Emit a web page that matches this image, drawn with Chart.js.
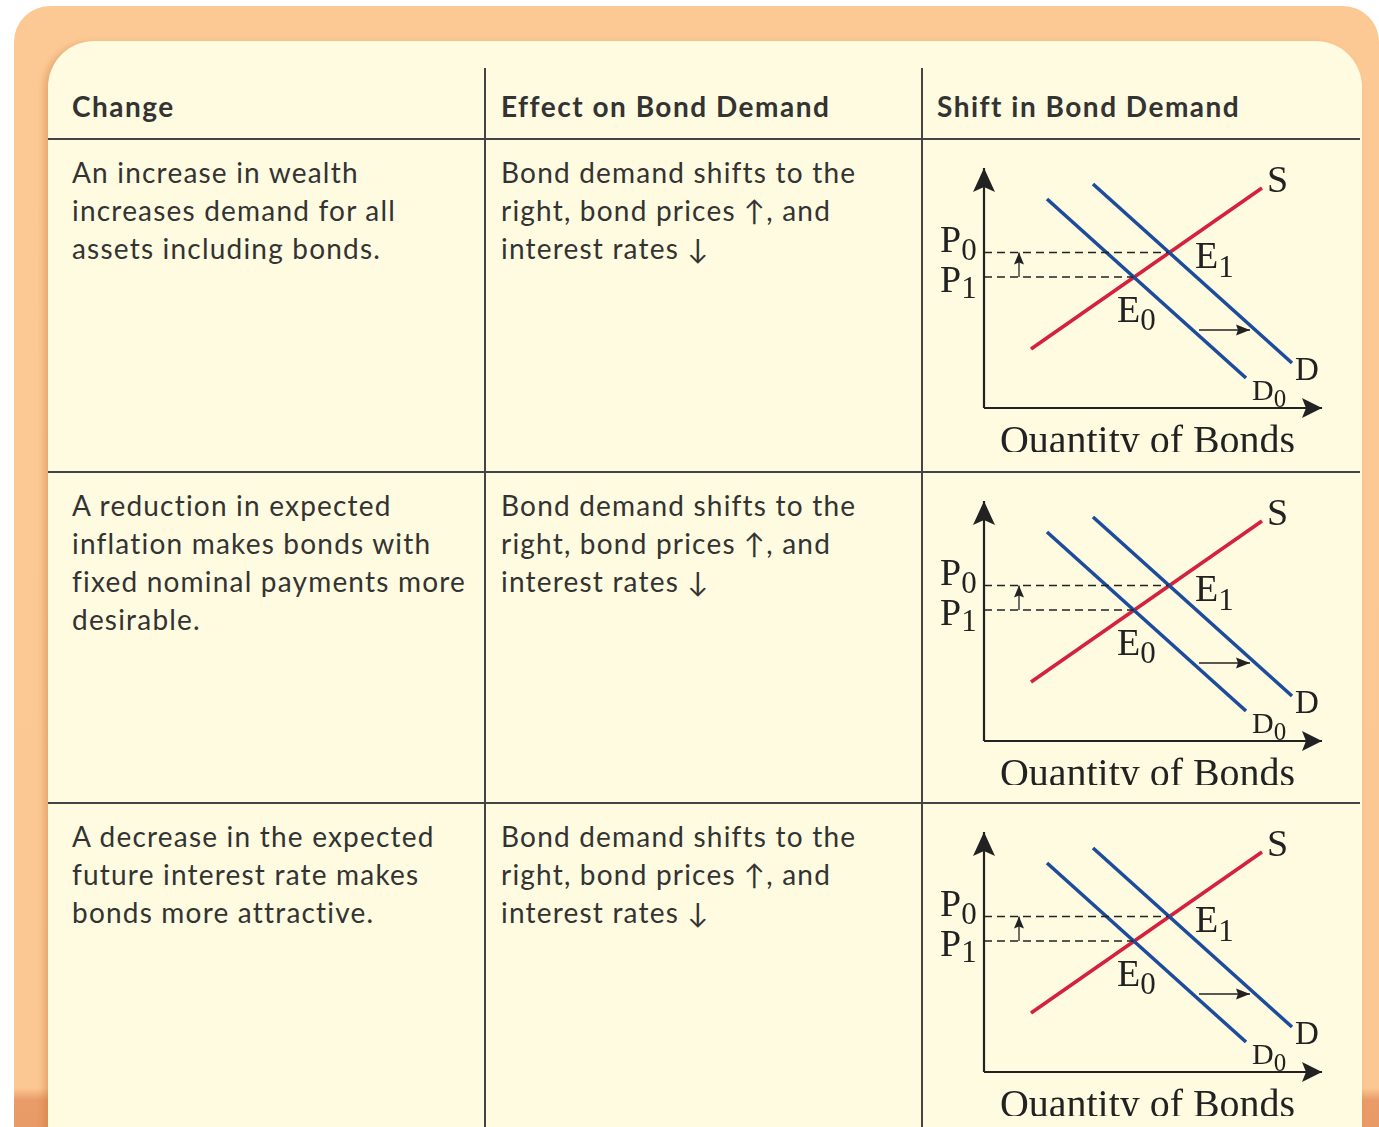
<!DOCTYPE html>
<html>
<head>
<meta charset="utf-8">
<script src="https://cdn.jsdelivr.net/npm/chart.js@4.4.1/dist/chart.umd.min.js"></script>
<style>
  html,body{margin:0;padding:0;background:#ffffff;width:1379px;height:1127px;overflow:hidden;}
  #frame{position:absolute;left:14px;top:6px;width:1365px;height:1200px;border-radius:36px;
    background:linear-gradient(to bottom,#fcc995 0px,#fbc793 1082px,#e99c69 1094px,#e4925e 1200px);}
  #panel{position:absolute;left:48px;top:41px;width:1314px;height:1200px;border-radius:46px;
    background:#fefbe0;box-shadow:-4px 2px 7px rgba(190,105,40,0.35);}
  .hline{position:absolute;left:48px;width:1312px;height:2px;background:#444;}
  .vline{position:absolute;top:68px;width:2px;height:1100px;background:#444;}
  .txt{position:absolute;font-family:Lato,"Open Sans",sans-serif;font-size:28px;line-height:38px;color:#333;white-space:nowrap;letter-spacing:1.2px;}
  .hdr{font-weight:700;letter-spacing:1.5px;}
  canvas.dg{position:absolute;}
</style>
</head>
<body>
<div id="frame"></div>
<div id="panel"></div>
<div id="table"></div>
<script>
// ---------------- data ----------------
const headers = ["Change", "Effect on Bond Demand", "Shift in Bond Demand"];
const changes = [
  ["An increase in wealth", "increases demand for all", "assets including bonds."],
  ["A reduction in expected", "inflation makes bonds with", "fixed nominal payments more", "desirable."],
  ["A decrease in the expected", "future interest rate makes", "bonds more attractive."]
];
const effects = [
  ["Bond demand shifts to the", "right, bond prices \u2191, and", "interest rates \u2193"],
  ["Bond demand shifts to the", "right, bond prices \u2191, and", "interest rates \u2193"],
  ["Bond demand shifts to the", "right, bond prices \u2191, and", "interest rates \u2193"]
];
// diagram values (quantity, price) in arbitrary units
const supplyS   = [[4.7, 5.9], [27.8, 22.0]];
const demandD0  = [[6.3, 20.9], [26.2, 3.0]];
const demandD   = [[10.9, 22.4], [30.8, 4.5]];
const priceP0 = 15.55, priceP1 = 13.1;
const quantityE1 = 18.45, quantityE0 = 14.95;
const axisQmax = 33.8, axisPmax = 24.0;
const shiftArrowQ = [21.5, 26.6], shiftArrowP = 7.8;
const priceArrowQ = 3.5;
const pointLabels = ["P", "P", "E", "E", "S", "D", "D"];
const pointSubs   = ["0", "1", "1", "0", "", "", "0"];
const xAxisTitle = "Quantity of Bonds";

// ---------------- layout ----------------
const rowTops = [139, 472, 803];
const table = document.getElementById('table');
function add(cls, style, text){
  const d = document.createElement('div'); d.className = cls; Object.assign(d.style, style);
  if (text !== undefined) d.innerHTML = text; table.appendChild(d); return d;
}
rowTops.forEach(t => add('hline', {top:(t-1)+'px'}));
add('vline', {left:'484px'}); add('vline', {left:'921px'});
const colX = [72, 501, 937];
headers.forEach((h,i)=> add('txt hdr', {left:colX[i]+'px', top:'87px'}, h));
rowTops.forEach((t,r)=>{
  add('txt', {left:colX[0]+'px', top:(t+14)+'px'}, changes[r].join('<br>'));
  add('txt', {left:colX[1]+'px', top:(t+14)+'px'}, effects[r].join('<br>'));
});

// ---------------- Chart.js diagrams ----------------
const toPts = arr => arr.map(([x,y])=>({x,y}));
const RED = '#d3213f', BLUE = '#1d4c9c', INK = '#222';

const arrowPlugin = {
  id:'arrowheads',
  afterDatasetsDraw(chart){
    const ctx = chart.ctx;
    chart.data.datasets.forEach((ds,i)=>{
      if(!ds.arrowHead) return;
      const pts = chart.getDatasetMeta(i).data;
      const a = pts[pts.length-2], b = pts[pts.length-1];
      const ang = Math.atan2(b.y-a.y, b.x-a.x);
      const h = ds.arrowHead;
      ctx.save(); ctx.translate(b.x, b.y); ctx.rotate(ang);
      ctx.beginPath(); ctx.moveTo(0,0); ctx.lineTo(-h.len,-h.half); ctx.lineTo(-h.len+h.notch,0); ctx.lineTo(-h.len,h.half); ctx.closePath();
      ctx.fillStyle = ds.borderColor; ctx.fill(); ctx.restore();
    });
  }
};

const labelPlacement = [
  {q:-4.4, p:priceP0+0.05, size:38, subSize:31, drop:8},
  {q:-4.4, p:11.6, size:38, subSize:31, drop:6},
  {q:21.1, p:14.0, size:38, subSize:31, drop:9},
  {q:13.3, p:8.6, size:38, subSize:31, drop:8},
  {q:28.3, p:21.6, size:38, subSize:31, drop:0},
  {q:31.1, p:2.8, size:33, subSize:26, drop:7},
  {q:26.8, p:0.8, size:30, subSize:25, drop:7}
];
const labelPlugin = {
  id:'diagramLabels',
  afterDraw(chart){
    const {ctx, scales:{x, y}} = chart;
    ctx.save();
    ctx.fillStyle = INK; ctx.textBaseline = 'alphabetic'; ctx.textAlign = 'left';
    pointLabels.forEach((t,i)=>{
      const pl = labelPlacement[i];
      const px = x.getPixelForValue(pl.q), py = y.getPixelForValue(pl.p);
      ctx.font = pl.size + 'px "Liberation Serif", "Times New Roman", serif';
      ctx.fillText(t, px, py);
      const w = ctx.measureText(t).width;
      if (pointSubs[i]) {
        ctx.font = pl.subSize + 'px "Liberation Serif", "Times New Roman", serif';
        ctx.fillText(pointSubs[i], px + w, py + pl.drop);
      }
    });
    ctx.font = '40px "Liberation Serif", "Times New Roman", serif';
    const tx = x.getPixelForValue(1.6), ty = y.getPixelForValue(-4.5);
    const tw = ctx.measureText(xAxisTitle).width;
    ctx.translate(tx, ty); ctx.scale(295/tw, 1);
    ctx.fillText(xAxisTitle, 0, 0);
    ctx.restore();
  }
};

function lineDs(data, color, width, extra){
  return Object.assign({data: toPts(data), borderColor: color, backgroundColor: color, borderWidth: width,
    showLine: true, pointRadius: 0, fill: false, tension: 0}, extra || {});
}

rowTops.forEach((t)=>{
  const cv = document.createElement('canvas');
  cv.className = 'dg';
  cv.width = 436; cv.height = 312;
  cv.style.left = '924px'; cv.style.top = (t+1)+'px';
  cv.style.width = '436px'; cv.style.height = '312px';
  document.body.appendChild(cv);
  new Chart(cv, {
    type: 'scatter',
    data: { datasets: [
      lineDs([[0,priceP0],[quantityE1,priceP0]], INK, 1.3, {borderDash:[8,5]}),
      lineDs([[0,priceP1],[quantityE0,priceP1]], INK, 1.3, {borderDash:[8,5]}),
      lineDs([[0,0],[0,axisPmax]], INK, 2.2, {arrowHead:{len:24, half:11, notch:5}}),
      lineDs([[0,0],[axisQmax,0]], INK, 2.2, {arrowHead:{len:20, half:10, notch:4}}),
      lineDs([[priceArrowQ,priceP1],[priceArrowQ,priceP0]], INK, 1.3, {arrowHead:{len:12, half:5, notch:2}}),
      lineDs([[shiftArrowQ[0],shiftArrowP],[shiftArrowQ[1],shiftArrowP]], INK, 1.5, {arrowHead:{len:14, half:5.5, notch:2}}),
      lineDs(demandD0, BLUE, 3.6),
      lineDs(demandD, BLUE, 3.6),
      lineDs(supplyS, RED, 3.6)
    ]},
    options: {
      responsive: false, animation: false, devicePixelRatio: 1,
      layout: {padding: 0},
      plugins: {legend: {display:false}, tooltip: {enabled:false}},
      scales: {
        x: {type:'linear', display:false, min:-6.0, max:37.6},
        y: {type:'linear', display:false, min:-4.4, max:26.8}
      },
      elements: {point: {radius:0}, line: {borderCapStyle:'butt'}}
    },
    plugins: [arrowPlugin, labelPlugin]
  });
});
</script>
</body>
</html>
